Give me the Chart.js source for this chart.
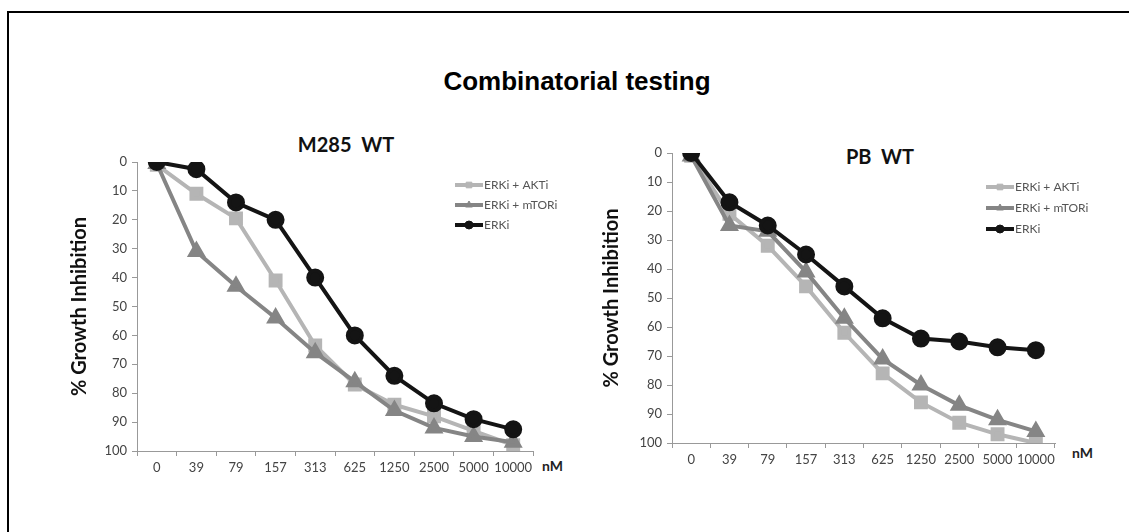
<!DOCTYPE html>
<html>
<head>
<meta charset="utf-8">
<script src="https://cdn.jsdelivr.net/npm/chart.js@4/dist/chart.umd.min.js"></script>
<style>
  html, body { margin: 0; padding: 0; background: #fff; }
  body { width: 1129px; height: 532px; position: relative; overflow: hidden; }
  .frame { position: absolute; left: 7px; top: 11px; width: 1200px; height: 600px;
           border-left: 2px solid #000; border-top: 2px solid #000; }
  .title { position: absolute; left: 0; width: 1154px; top: 66px; text-align: center;
           font-family: "Liberation Sans", Arial, sans-serif; font-weight: bold; font-size: 26px; color: #000; }
  .sub { position: absolute; font-family: Lato, "Open Sans", sans-serif; font-weight: bold;
         font-size: 20px; color: #111; white-space: pre; transform: translateX(-50%); }
  .unit { position: absolute; font-family: Lato, "Open Sans", sans-serif; font-weight: bold;
          font-size: 14px; color: #222; }
  canvas { position: absolute; }
</style>
</head>
<body>
<div class="frame"></div>
<div class="title">Combinatorial testing</div>
<div class="sub" style="left:346px; top:132px;">M285  WT</div>
<div class="sub" style="left:880px; top:144px;">PB  WT</div>
<div class="unit" style="left:542px; top:457px;">nM</div>
<div class="unit" style="left:1072px; top:444px;">nM</div>

<div style="position:absolute; left:20px; top:120px; width:540px; height:370px;"><canvas id="left"></canvas></div>
<div style="position:absolute; left:590px; top:110px; width:500px; height:380px;"><canvas id="right"></canvas></div>

<script>
const doses = ['0', '39', '79', '157', '313', '625', '1250', '2500', '5000', '10000'];
const yTicks = [0, 10, 20, 30, 40, 50, 60, 70, 80, 90, 100];
const seriesNames = ['ERKi + AKTi', 'ERKi + mTORi', 'ERKi'];

// M285 WT
const m285Akt = [1, 11, 19.5, 41, 63.5, 77, 84, 88, 93, 98];
const m285Mtor = [0.5, 31, 43, 54, 66, 76, 86, 92, 95, 97];
const m285Erk = [0, 2.5, 14, 20, 40, 60, 74, 83.5, 89, 92.5];

// PB WT
const pbAkt = [1, 21, 32, 46, 62, 76, 86, 93, 97, 100];
const pbMtor = [1, 25, 27, 41, 57, 71, 80, 87, 92, 96];
const pbErk = [0, 17, 25, 35, 46, 57, 64, 65, 67, 68];

const colors = ['#b5b5b5', '#858585', '#141414'];
const styles = ['rect', 'triangle', 'circle'];

const fontFamily = 'Lato, "Open Sans", sans-serif';

const inlineLegend = {
    id: 'inlineLegend',
    afterDatasetsDraw(chart, args, opts) {
        const ctx = chart.ctx;
        ctx.save();
        chart.data.datasets.forEach((ds, i) => {
            const y = opts.y + i * opts.gap;
            ctx.strokeStyle = ds.borderColor;
            ctx.lineWidth = 4;
            ctx.beginPath();
            ctx.moveTo(opts.x, y);
            ctx.lineTo(opts.x + 28, y);
            ctx.stroke();
            ctx.fillStyle = ds.backgroundColor;
            ctx.lineWidth = 1;
            Chart.helpers.drawPoint(ctx, {
                pointStyle: ds.pointStyle, radius: 4, borderWidth: 1, rotation: 0
            }, opts.x + 14, y);
            ctx.fillStyle = '#555';
            ctx.font = '12px ' + fontFamily;
            ctx.textBaseline = 'middle';
            ctx.fillText(ds.label, opts.x + 29, y);
        });
        ctx.restore();
    }
};

function makeChart(id, series, pad, yWidth, xHeight, legendPos) {
    const ctx = document.getElementById(id).getContext('2d');
    return new Chart(ctx, {
        type: 'line',
        data: {
            labels: doses,
            datasets: series.map((vals, i) => ({
                label: seriesNames[i],
                data: vals,
                borderColor: colors[i],
                backgroundColor: colors[i],
                pointBackgroundColor: colors[i],
                pointBorderColor: colors[i],
                pointStyle: styles[i],
                pointRadius: 7,
                borderWidth: 4,
                tension: 0,
                order: 3 - i
            }))
        },
        options: {
            responsive: true,
            maintainAspectRatio: false,
            animation: false,
            devicePixelRatio: 1,
            layout: { padding: pad },
            plugins: {
                legend: { display: false },
                tooltip: { enabled: false },
                inlineLegend: legendPos
            },
            scales: {
                x: {
                    offset: true,
                    grid: { offset: true, drawOnChartArea: false, drawTicks: true, tickLength: 5, color: '#999' },
                    border: { color: '#999', width: 1 },
                    ticks: { color: '#444', font: { family: fontFamily, size: 13 }, padding: 4, maxRotation: 0, autoSkip: false },
                    afterFit: s => { s.height = xHeight; }
                },
                y: {
                    reverse: true,
                    min: 0,
                    max: 100,
                    afterBuildTicks: s => { s.ticks = yTicks.map(v => ({ value: v })); },
                    grid: { drawOnChartArea: false, drawTicks: true, tickLength: 5, color: '#999' },
                    border: { color: '#999', width: 1 },
                    ticks: { color: '#444', font: { family: fontFamily, size: 13 }, padding: 5 },
                    title: {
                        display: true,
                        text: '% Growth Inhibition',
                        color: '#111',
                        font: { family: fontFamily, size: 20, weight: 'bold' },
                        padding: 0
                    },
                    afterFit: s => { s.width = yWidth; }
                }
            }
        },
        plugins: [inlineLegend]
    });
}

makeChart('left', [m285Akt, m285Mtor, m285Erk],
    { top: 42, left: 48, right: 27, bottom: 0 }, 69, 39,
    { x: 435, y: 65, gap: 20 });

makeChart('right', [pbAkt, pbMtor, pbErk],
    { top: 43, left: 10, right: 35, bottom: 0 }, 72, 47,
    { x: 396, y: 77, gap: 21 });
</script>
</body>
</html>
